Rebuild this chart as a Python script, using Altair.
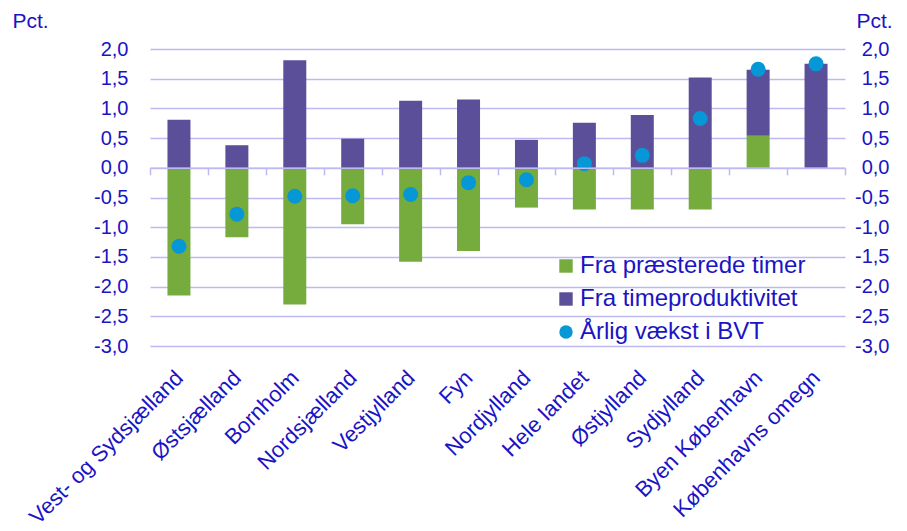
import altair as alt
import pandas as pd

regions = ["Vest- og Sydsjælland", "Østsjælland", "Bornholm", "Nordsjælland",
           "Vestjylland", "Fyn", "Nordjylland", "Hele landet", "Østjylland",
           "Sydjylland", "Byen København", "Københavns omegn"]
timer = [-2.15, -1.17, -2.30, -0.95, -1.58, -1.40, -0.67, -0.70, -0.70, -0.70, 0.54, 0.0]
produktivitet = [0.81, 0.38, 1.81, 0.49, 1.13, 1.15, 0.47, 0.76, 0.89, 1.52, 1.11, 1.75]
vaekst = [-1.32, -0.78, -0.48, -0.47, -0.45, -0.25, -0.20, 0.07, 0.21, 0.83, 1.66, 1.75]
series = ["Fra præsterede timer", "Fra timeproduktivitet", "Årlig vækst i BVT"]
colors = ["#76AB3E", "#5B4F9A", "#0597D6"]
shapes = ["square", "square", "circle"]
y_ticks = [-3.0, -2.5, -2.0, -1.5, -1.0, -0.5, 0.0, 0.5, 1.0, 1.5, 2.0]

TXT = "#1A14C4"
GRID = "#BDB9F3"
FONT = "Liberation Sans"

n = len(regions)
bars_df = pd.DataFrame({
    "region": regions * 2,
    "serie": [series[0]] * n + [series[1]] * n,
    "value": timer + produktivitet,
    "orden": [0] * n + [1] * n,
})
dots_df = pd.DataFrame({"region": regions, "serie": [series[2]] * n, "value": vaekst})

label_expr = "(datum.value < 0 ? '-' : '') + replace(format(abs(datum.value), '.1f'), '.', ',')"

x_enc = alt.X("region:N", sort=regions,
              scale=alt.Scale(paddingInner=0, paddingOuter=0),
              axis=alt.Axis(title=None, orient="bottom", offset=-178.2, zindex=1,
                            domain=True, domainColor=GRID, domainWidth=1.5,
                            ticks=True, tickBand="extent", tickSize=7,
                            tickColor=GRID, tickWidth=1.5,
                            labelAngle=-45, labelAlign="right", labelBaseline="middle",
                            labelPadding=199, labelFontSize=22, labelColor=TXT,
                            labelLimit=400, labelOverlap=False, grid=False))

color_scale = alt.Scale(domain=series, range=colors)
shape_scale = alt.Scale(domain=series, range=shapes)
legend = alt.Legend(title=None, orient="none", legendX=404, legendY=205,
                    labelFontSize=24, labelColor=TXT, labelFont=FONT,
                    labelLimit=400,
                    symbolSize=180, symbolStrokeWidth=0, rowPadding=9,
                    labelOffset=2)

ydom = alt.Scale(domain=[-3, 2], nice=False, zero=False)

bars = alt.Chart(bars_df).mark_bar(size=23).encode(
    x=x_enc,
    y=alt.Y("value:Q", stack="zero", scale=ydom,
            axis=alt.Axis(orient="left", values=y_ticks, labelExpr=label_expr,
                          domain=False, ticks=False, grid=True, gridColor=GRID,
                          gridWidth=1.5, labelFontSize=20, labelColor=TXT,
                          labelPadding=22, title="Pct.", titleAngle=0,
                          titleX=-138, titleY=-22, titleAlign="left",
                          titleBaseline="alphabetic", titleFontSize=21,
                          titleFontWeight="normal", titleColor=TXT)),
    color=alt.Color("serie:N", scale=color_scale, legend=legend),
    order=alt.Order("orden:Q"),
)

dots = alt.Chart(dots_df).mark_point(filled=True, size=225, opacity=1).encode(
    x=alt.X("region:N", sort=regions),
    y=alt.Y("value:Q", scale=ydom,
            axis=alt.Axis(orient="right", values=y_ticks, labelExpr=label_expr,
                          domain=False, ticks=False, grid=False,
                          labelFontSize=20, labelColor=TXT, labelAlign="right",
                          labelPadding=44, title="Pct.", titleAngle=0,
                          titleX=11, titleY=-22, titleAlign="left",
                          titleBaseline="alphabetic", titleFontSize=21,
                          titleFontWeight="normal", titleColor=TXT)),
    color=alt.Color("serie:N", scale=color_scale, legend=legend),
    shape=alt.Shape("serie:N", scale=shape_scale, legend=legend),
)

chart = alt.layer(bars, dots).resolve_scale(y="independent").properties(
    width=695, height=297,
    autosize=alt.AutoSizeParams(type="none"),
    padding={"left": 142, "top": 41, "right": 54, "bottom": 177},
).configure(font=FONT).configure_view(stroke=None)

chart.save("out.html", embed_options={"renderer": "svg", "actions": False})
